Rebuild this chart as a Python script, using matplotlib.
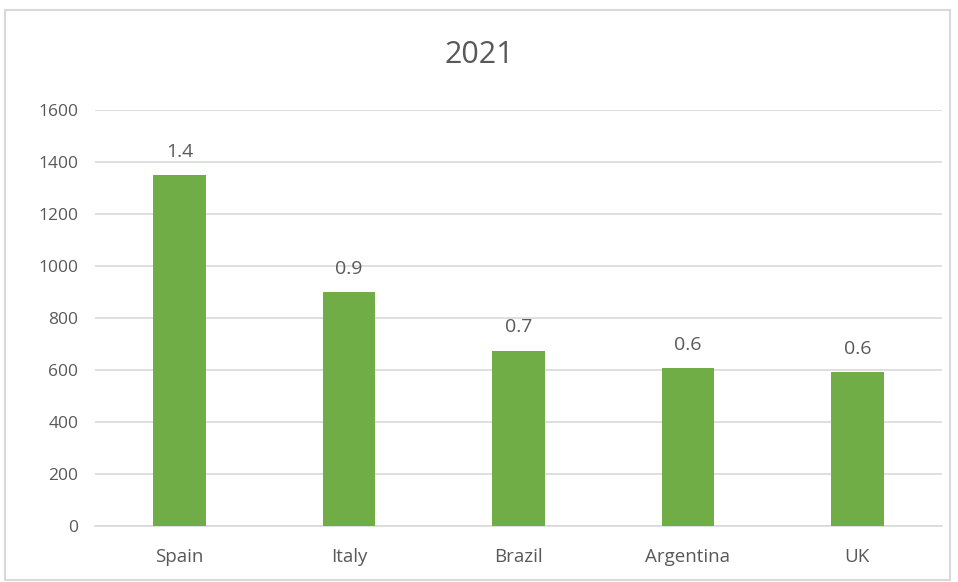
import matplotlib
matplotlib.use("Agg")
import matplotlib.pyplot as plt
from matplotlib.patches import Rectangle

categories = ["Spain", "Italy", "Brazil", "Argentina", "UK"]
values = [1350, 900, 675, 608, 593]
labels = ["1.4", "0.9", "0.7", "0.6", "0.6"]
yticks = [0, 200, 400, 600, 800, 1000, 1200, 1400, 1600]

plt.rcParams['font.family'] = ['Open Sans', 'DejaVu Sans']
txt = '#595959'

fig = plt.figure(figsize=(9.58, 5.82), dpi=100)
fig.patches.append(Rectangle((5/958, 2/582), 945/958, 570/582, transform=fig.transFigure,
                             fill=False, edgecolor='#D9D9D9', linewidth=1.5))
ax = fig.add_axes([95/958, 1 - 526/582, 847/958, 416/582])
x = range(len(categories))
ax.bar(x, values, width=0.31, color='#70AD47', zorder=3)
for xi, v, l in zip(x, values, labels):
    ax.text(xi, v + 55, l, ha='center', va='bottom', fontsize=14, color=txt)
ax.set_xlim(-0.5, 4.5)
ax.set_ylim(0, 1600)
ax.set_yticks(yticks)
ax.set_xticks(list(x))
ax.set_xticklabels(categories, fontsize=13.5)
ax.grid(axis='y', color='#D9D9D9', linewidth=1.2, zorder=0)
for s in ['top', 'right', 'left']:
    ax.spines[s].set_visible(False)
ax.spines['bottom'].set_color('#D9D9D9')
ax.spines['bottom'].set_linewidth(1.2)
ax.tick_params(axis='x', length=0, colors=txt, pad=16)
ax.tick_params(axis='y', length=0, labelsize=12.5, colors=txt, pad=12)
fig.text(0.5, 1 - 55/582, "2021", ha='center', va='center', fontsize=22, color=txt)
fig.savefig("out.png", dpi=100)
